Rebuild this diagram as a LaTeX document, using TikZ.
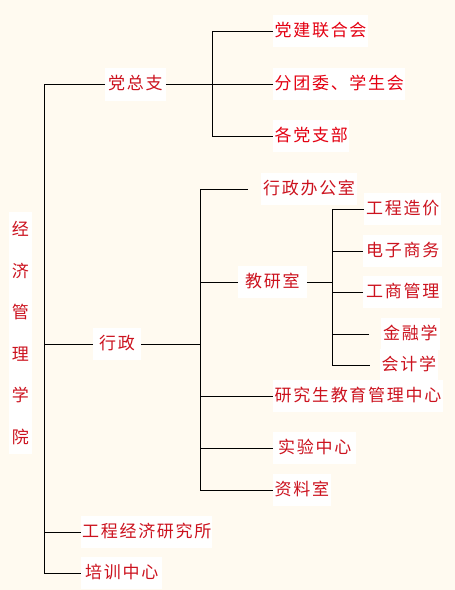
\documentclass[tikz,border=0pt]{standalone}
\usepackage{fontspec}
\newfontfamily\cjk[LetterSpace=10]{Noto Sans CJK SC}
\newfontfamily\cjkv{Noto Sans CJK SC}
\definecolor{bg}{RGB}{255,250,240}
\definecolor{redA}{RGB}{228,0,18}
\definecolor{redB}{RGB}{204,18,30}
\begin{document}
\begin{tikzpicture}[x=1pt,y=-1pt,
  lbl/.style={font=\cjk\fontsize{17}{17}\selectfont, fill=white, text=redB,
    inner xsep=2pt, inner ysep=8pt, text height=13.5pt, text depth=3pt, anchor=west},
  lblA/.style={lbl, text=redA},
  conn/.style={draw=black, line width=1pt}]
\fill[bg] (0,0) rectangle (455,590);
\useasboundingbox (0,0) rectangle (455,590);

% root label
\node[font=\cjkv\fontsize{17}{41.6}\selectfont, fill=white, text=redB, align=center,
  inner xsep=3pt, inner ysep=9pt] (jg) at (20.5,333) {经\\济\\管\\理\\学\\院};

% level 1
\node[lbl, inner xsep=3pt] (dzz) at (105,84.5) {党总支};
\node[lbl, inner xsep=6pt] (xz) at (93,344) {行政};
\node[lbl, inner xsep=1pt] (gcjj) at (81,532) {工程经济研究所};
\node[lbl, inner xsep=4pt] (px) at (81,573) {培训中心};

% party branch
\node[lblA, inner xsep=1.5pt] (djlh) at (273,31) {党建联合会};
\node[lblA, inner xsep=1.5pt] (ftw) at (273,84) {分团委、学生会};
\node[lblA, inner xsep=1.5pt] (gdzb) at (273,136) {各党支部};

% administration branch
\node[lbl] (xzbgs) at (261,189) {行政办公室};
\coordinate (xzbgsE) at (248,189);
\node[lbl, inner xsep=7pt] (jys) at (238,282) {教研室};
\node[lbl] (gczj) at (364,209) {工程造价};
\node[lbl, inner xsep=3pt] (dzsw) at (363,251) {电子商务};
\node[lbl, inner xsep=3pt] (gsgl) at (363,292) {工商管理};
\node[lbl] (jrx) at (381,334) {金融学};
\coordinate (jrxE) at (369,334);
\node[lbl, inner xsep=1.5pt] (kjx) at (380,365) {会计学};
\coordinate (kjxE) at (370,365);
\node[lbl, inner xsep=1.5pt] (yjs) at (273,396) {研究生教育管理中心};
\node[lbl, inner xsep=5pt] (syzx) at (273,448) {实验中心};
\node[lbl, inner xsep=1.5pt] (zls) at (273,490) {资料室};

% trunk x positions
\coordinate (t0) at (44.5,0);
\coordinate (b1) at (212,0);
\coordinate (b2) at (200,0);
\coordinate (b3) at (332,0);

% connectors
\draw[conn] (dzz.west) -| (px.west -| t0) -- (px.west);
\draw[conn] (xz.west) -- (xz.west -| t0);
\draw[conn] (gcjj.west) -- (gcjj.west -| t0);

\draw[conn] (djlh.west) -| (gdzb.west -| b1) -- (gdzb.west);
\draw[conn] (ftw.west) -- (ftw.west -| b1);
\draw[conn] (dzz.east) -- (dzz.east -| b1);

\draw[conn] (xzbgsE) -| (zls.west -| b2) -- (zls.west);
\draw[conn] (xz.east) -- (xz.east -| b2);
\draw[conn] (jys.west) -- (jys.west -| b2);
\draw[conn] (yjs.west) -- (yjs.west -| b2);
\draw[conn] (syzx.west) -- (syzx.west -| b2);

\draw[conn] (gczj.west) -| (kjxE -| b3) -- (kjxE);
\draw[conn] (jys.east) -- (jys.east -| b3);
\draw[conn] (dzsw.west) -- (dzsw.west -| b3);
\draw[conn] (gsgl.west) -- (gsgl.west -| b3);
\draw[conn] (jrxE) -- (jrxE -| b3);
\end{tikzpicture}
\end{document}
